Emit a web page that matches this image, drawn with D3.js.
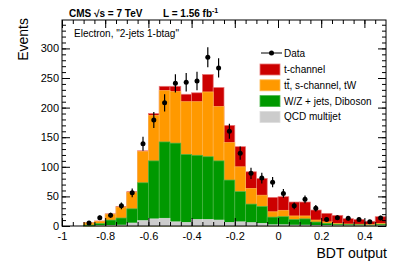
<!DOCTYPE html>
<html>
<head>
<meta charset="utf-8">
<script src="https://cdn.jsdelivr.net/npm/d3@7"></script>
<style>
  body { margin: 0; background: #fff; }
  svg { display: block; font-family: "Liberation Sans", Arial, sans-serif; }
  .axis path { display: none; }
  .axis line { stroke: #000; }
  .axis text { font-size: 11px; fill: #000; }
</style>
</head>
<body>
<div id="wrapper"></div>
<script>
// bin lower edges (BDT output), bin width 0.05
const binLow = [-1, -0.95, -0.9, -0.85, -0.8, -0.75, -0.7, -0.65, -0.6, -0.55,
  -0.5, -0.45, -0.4, -0.35, -0.3, -0.25, -0.2, -0.15, -0.1, -0.05,
  0, 0.05, 0.1, 0.15, 0.2, 0.25, 0.3, 0.35, 0.4, 0.45]
const binWidth = 0.05

// stacked MC components (events per bin)
const qcd = [0, 0, 0, 0.5, 1, 1.5, 5, 9, 12, 13,
  7, 6, 11, 11, 10, 6, 7, 5.6, 4.5, 2,
  2, 1.5, 1.5, 1, 1, 0.5, 0.5, 0.5, 0.3, 0.5]
const wzJets = [0, 0, 1.5, 3.5, 9, 12, 24, 64, 98, 129,
  133, 115, 108.5, 106, 100, 71.6, 51, 31.4, 28.5, 13,
  13.7, 9.5, 10.5, 5.7, 3.5, 2.5, 2, 1.5, 1.2, 2.4]
const ttbar = [0, 0, 3.7, 4, 10, 18.5, 28, 53, 77, 87,
  87, 89, 90.5, 109.5, 92, 63.4, 42, 26.5, 19, 9,
  10.8, 6, 5, 3.3, 2.5, 1.5, 0.9, 1, 1, 1.6]
const tChannel = [0, 0, 0.3, 0.5, 0.5, 1, 1, 1, 3, 7,
  9, 12.6, 15, 29.5, 32, 29, 34, 28.1, 28.4, 24.4,
  23, 23.5, 23.5, 17, 14.4, 13.5, 9, 8.2, 5.5, 11.2]

// observed data
const observed = [null, null, 5, 14, 18, 34, 56, 139, 179, 208,
  241, 243, 245, 285, 267, 160, 123, 89, 81, 74,
  55, 34, 45, 30, 11, 14, 13, 11, 7, 13.5]

const xTicks = [-1, -0.8, -0.6, -0.4, -0.2, 0, 0.2, 0.4]
const yTicks = [0, 50, 100, 150, 200, 250, 300]

// legend labels, as [plain, overlined, plain] pieces
const legendLabels = [
  ["t-channel", "", ""],
  ["t", "t", ", s-channel, tW"],
  ["W/Z + jets, Diboson", "", ""],
  ["QCD multijet", "", ""],
]
const layerKeys = ["tch", "tt", "wz", "qcd"]
const layerColors = ["#cc0000", "#ff9900", "#009900", "#cccccc"]
const layerEdges = ["#e87878", "#ffb84d", "#4cb84c", "#dddddd"]

let dimensions = {
  width: 407,
  height: 276,
  margin: { top: 20, right: 21, bottom: 50, left: 62 },
}
dimensions.boundedWidth = dimensions.width - dimensions.margin.left - dimensions.margin.right
dimensions.boundedHeight = dimensions.height - dimensions.margin.top - dimensions.margin.bottom

const wrapper = d3.select("#wrapper")
  .append("svg")
    .attr("width", dimensions.width)
    .attr("height", dimensions.height)

const bounds = wrapper.append("g")
  .attr("transform", `translate(${dimensions.margin.left},${dimensions.margin.top})`)

// scales
const xScale = d3.scaleLinear()
  .domain([-1, 0.5])
  .range([0, dimensions.boundedWidth])

const yScale = d3.scaleLinear()
  .domain([0, 348])
  .range([dimensions.boundedHeight, 0])

// table for the stack
const table = binLow.map((x0, i) => ({
  x0,
  qcd: qcd[i],
  wz: wzJets[i],
  tt: ttbar[i],
  tch: tChannel[i],
}))
const stacked = d3.stack().keys(["qcd", "wz", "tt", "tch"])(table)
const topOf = {}
stacked.forEach(s => { topOf[s.key] = s.map(d => d[1]) })

// draw like THStack: each layer from 0 to its cumulative top, top layer first
const histGroup = bounds.append("g")
layerKeys.forEach((key, k) => {
  histGroup.append("g")
    .selectAll("rect")
    .data(table)
    .join("rect")
      .attr("x", d => xScale(d.x0))
      .attr("width", d => xScale(d.x0 + binWidth) - xScale(d.x0))
      .attr("y", (d, i) => yScale(topOf[key][i]))
      .attr("height", (d, i) => yScale(0) - yScale(topOf[key][i]))
      .attr("fill", layerColors[k])
      .attr("stroke", layerEdges[k])
      .attr("stroke-width", (d, i) => topOf[key][i] > 0 ? 0.7 : 0)
})

// axes, ticks pointing inward on all four sides
const fmt = d => String(+d.toFixed(1))
const xMinor = d3.range(0, 30).map(i => -1 + i * 0.05)
const yMinor = d3.range(0, 35).map(i => i * 10)

const xAxis = bounds.append("g")
  .attr("class", "axis")
  .attr("transform", `translate(0,${dimensions.boundedHeight})`)
  .call(d3.axisBottom(xScale).tickValues(xTicks).tickSize(-8).tickPadding(6).tickFormat(fmt))
bounds.append("g")
  .attr("class", "axis")
  .attr("transform", `translate(0,${dimensions.boundedHeight})`)
  .call(d3.axisBottom(xScale).tickValues(xMinor).tickSize(-4).tickFormat(""))
bounds.append("g")
  .attr("class", "axis")
  .call(d3.axisTop(xScale).tickValues(xTicks).tickSize(-8).tickFormat(""))
bounds.append("g")
  .attr("class", "axis")
  .call(d3.axisTop(xScale).tickValues(xMinor).tickSize(-4).tickFormat(""))

const yAxis = bounds.append("g")
  .attr("class", "axis")
  .call(d3.axisLeft(yScale).tickValues(yTicks).tickSize(-8).tickPadding(3).tickFormat(d3.format("d")))
bounds.append("g")
  .attr("class", "axis")
  .call(d3.axisLeft(yScale).tickValues(yMinor).tickSize(-4).tickFormat(""))
bounds.append("g")
  .attr("class", "axis")
  .attr("transform", `translate(${dimensions.boundedWidth},0)`)
  .call(d3.axisRight(yScale).tickValues(yTicks).tickSize(-8).tickFormat(""))
bounds.append("g")
  .attr("class", "axis")
  .attr("transform", `translate(${dimensions.boundedWidth},0)`)
  .call(d3.axisRight(yScale).tickValues(yMinor).tickSize(-4).tickFormat(""))

// frame
bounds.append("rect")
  .attr("width", dimensions.boundedWidth)
  .attr("height", dimensions.boundedHeight)
  .attr("fill", "none")
  .attr("stroke", "#000")
  .attr("stroke-width", 1)

// data points with sqrt(N) errors
const dataPts = binLow
  .map((x0, i) => ({ x: x0 + binWidth / 2, n: observed[i] }))
  .filter(d => d.n != null)

const dataGroup = bounds.append("g")
dataGroup.selectAll("line")
  .data(dataPts)
  .join("line")
    .attr("x1", d => xScale(d.x))
    .attr("x2", d => xScale(d.x))
    .attr("y1", d => yScale(d.n + Math.sqrt(d.n)))
    .attr("y2", d => yScale(Math.max(0, d.n - Math.sqrt(d.n))))
    .attr("stroke", "#000")
    .attr("stroke-width", 1.2)
dataGroup.selectAll("circle")
  .data(dataPts)
  .join("circle")
    .attr("cx", d => xScale(d.x))
    .attr("cy", d => yScale(d.n))
    .attr("r", 2.5)
    .attr("fill", "#000")

// axis titles
wrapper.append("text")
  .attr("x", 387)
  .attr("y", 258)
  .attr("text-anchor", "end")
  .style("font-size", "14px")
  .text("BDT output")

wrapper.append("text")
  .attr("transform", "translate(28,18) rotate(-90)")
  .attr("text-anchor", "end")
  .style("font-size", "14px")
  .text("Events")

// header
wrapper.append("text")
  .attr("x", 69)
  .attr("y", 16.5)
  .style("font-size", "10px")
  .style("font-weight", "bold")
  .text("CMS \u221As = 7 TeV")

const lumi = wrapper.append("text")
  .attr("x", 163)
  .attr("y", 16.5)
  .style("font-size", "10px")
  .style("font-weight", "bold")
lumi.append("tspan").text("L = 1.56 fb")
lumi.append("tspan")
  .attr("dy", -4)
  .style("font-size", "7px")
  .text("-1")

wrapper.append("text")
  .attr("x", 74)
  .attr("y", 36.5)
  .style("font-size", "10px")
  .text("Electron, \"2-jets 1-btag\"")

// legend
const legendGroup = wrapper.append("g")
  .attr("transform", "translate(260,0)")

legendGroup.append("line")
  .attr("x1", 1).attr("x2", 22)
  .attr("y1", 53).attr("y2", 53)
  .attr("stroke", "#000")
legendGroup.append("circle")
  .attr("cx", 11.5).attr("cy", 53).attr("r", 2.5)
legendGroup.append("text")
  .attr("x", 24).attr("y", 56.5)
  .style("font-size", "10px")
  .text("Data")

const legendItems = legendGroup.selectAll(".legend-item")
  .data(legendLabels)
  .join("g")
    .attr("class", "legend-item")
    .attr("transform", (d, i) => `translate(0,${64 + i * 15.8})`)
legendItems.append("rect")
  .attr("width", 20)
  .attr("height", 11)
  .attr("fill", (d, i) => layerColors[i])
  .attr("stroke", (d, i) => layerEdges[i])
  .attr("stroke-width", 0.8)
const legendText = legendItems.append("text")
  .attr("x", 24)
  .attr("y", 9)
  .style("font-size", "10px")
legendText.append("tspan").text(d => d[0])
legendText.append("tspan")
  .style("text-decoration", "overline")
  .text(d => d[1])
legendText.append("tspan").text(d => d[2])
</script>
</body>
</html>
